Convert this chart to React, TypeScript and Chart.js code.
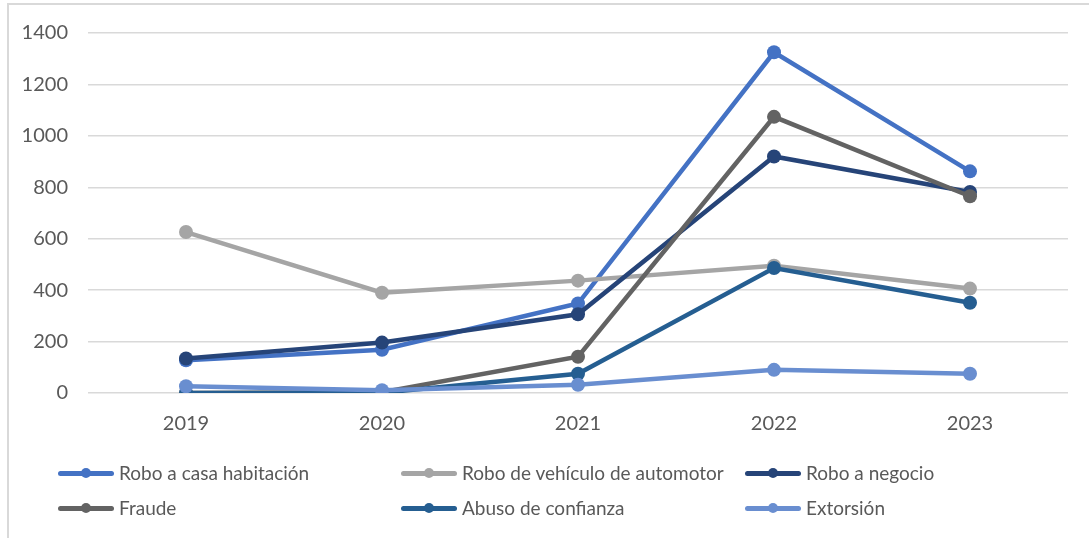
import React, { useEffect, useRef } from "react";
import { Chart, registerables } from "chart.js";

Chart.register(...registerables);

const years = ["2019", "2020", "2021", "2022", "2023"];
const seriesNames = [
  "Robo a casa habitación",
  "Robo de vehículo de automotor",
  "Robo a negocio",
  "Fraude",
  "Abuso de confianza",
  "Extorsión",
];
const casa = [127, 168, 348, 1325, 862];
const vehiculo = [626, 390, 437, 495, 406];
const negocio = [134, 196, 306, 920, 782];
const fraude = [0, 3, 141, 1074, 765];
const abuso = [0, 1, 75, 486, 351];
const extorsion = [26, 11, 32, 90, 75];
const colors = ["#4472C4", "#A5A5A5", "#264478", "#636363", "#255E91", "#698ED0"];
const yTicks = [0, 200, 400, 600, 800, 1000, 1200, 1400];

const FONT = "Lato, 'Open Sans', sans-serif";
const TEXT = "#595959";

export default function App() {
  const ref = useRef<HTMLCanvasElement | null>(null);

  useEffect(() => {
    if (!ref.current) return;
    const all = [casa, vehiculo, negocio, fraude, abuso, extorsion];
    const chart = new Chart(ref.current, {
      type: "line",
      data: {
        labels: years,
        datasets: all.map((d, i) => ({
          label: seriesNames[i],
          data: d,
          borderColor: colors[i],
          backgroundColor: colors[i],
          pointBackgroundColor: colors[i],
          pointBorderColor: colors[i],
          borderWidth: 4.5,
          pointRadius: 7,
          pointBorderWidth: 0,
          tension: 0,
          fill: false,
          order: all.length - i,
        })),
      },
      options: {
        animation: false,
        responsive: false,
        maintainAspectRatio: false,
        layout: { padding: { left: 0, top: 33, right: 21, bottom: 95 } },
        plugins: { legend: { display: false }, tooltip: { enabled: false } },
        scales: {
          x: {
            offset: true,
            grid: { display: false, drawTicks: false },
            border: { display: false },
            ticks: { color: TEXT, font: { family: FONT, size: 20 }, padding: 19 },
            afterFit: (s: any) => {
              s.height = 50;
            },
          },
          y: {
            min: 0,
            max: 1400,
            afterBuildTicks: (s: any) => {
              s.ticks = yTicks.map((v) => ({ value: v }));
            },
            grid: { color: "#d9d9d9", lineWidth: 1.5, drawTicks: false },
            border: { display: false },
            ticks: {
              color: TEXT,
              font: { family: FONT, size: 20 },
              padding: 20,
              callback: (v: any) => String(v),
            },
            afterFit: (s: any) => {
              s.width = 88;
            },
          },
        },
      },
    });
    return () => chart.destroy();
  }, []);

  const legendCols = [58, 401, 745];
  const legendRows = [473, 508];

  return (
    <div
      style={{
        position: "fixed",
        left: 0,
        top: 0,
        width: 1089,
        height: 538,
        background: "#fff",
        overflow: "hidden",
      }}
    >
      <div
        style={{
          position: "absolute",
          left: 7,
          top: 3,
          width: 1200,
          height: 700,
          borderLeft: "2px solid #d9d9d9",
          borderTop: "2px solid #d9d9d9",
        }}
      />
      <canvas
        ref={ref}
        width={1089}
        height={538}
        style={{ position: "absolute", left: 0, top: 0, width: 1089, height: 538 }}
      />
      {seriesNames.map((name, i) => {
        const x = legendCols[i % 3];
        const y = legendRows[Math.floor(i / 3)];
        return (
          <div key={name}>
            <div
              style={{
                position: "absolute",
                left: x,
                top: y - 2.5,
                width: 56,
                height: 5,
                borderRadius: 3,
                background: colors[i],
              }}
            />
            <div
              style={{
                position: "absolute",
                left: x + 23,
                top: y - 5,
                width: 10,
                height: 10,
                borderRadius: 5,
                background: colors[i],
              }}
            />
            <div
              style={{
                position: "absolute",
                left: x + 61,
                top: y - 13,
                height: 26,
                lineHeight: "26px",
                fontFamily: FONT,
                fontSize: 19,
                color: TEXT,
                whiteSpace: "nowrap",
              }}
            >
              {name}
            </div>
          </div>
        );
      })}
    </div>
  );
}
